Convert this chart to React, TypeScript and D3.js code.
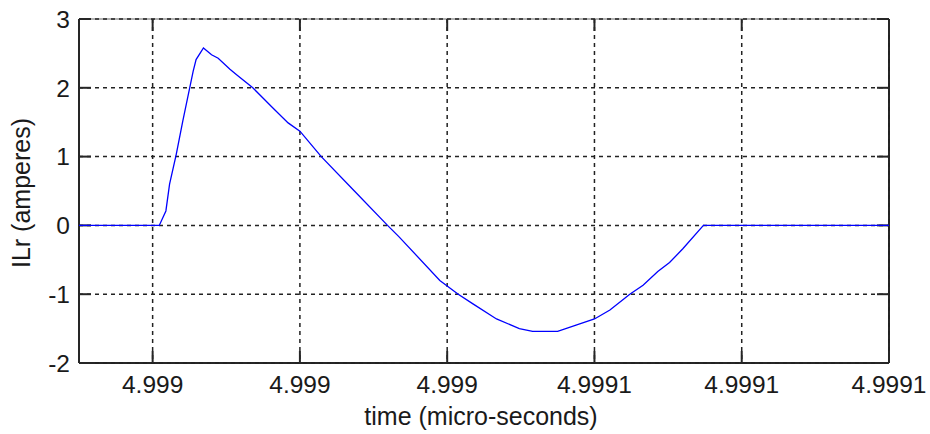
import React from "react";
import * as d3 from "d3";

// time samples (as shown on the axis) and inductor current
const timeVals = [
  4.99899, 4.9990009, 4.9990018, 4.9990023, 4.9990032, 4.9990041, 4.9990055, 4.9990059,
  4.9990069, 4.999008, 4.9990089, 4.9990105, 4.9990114, 4.9990136, 4.9990163, 4.9990184,
  4.99902, 4.9990229, 4.9990274, 4.9990319, 4.9990335, 4.999039, 4.9990415, 4.9990435,
  4.9990467, 4.9990498, 4.9990516, 4.999055, 4.9990575, 4.99906, 4.9990621, 4.9990648,
  4.9990666, 4.9990686, 4.9990702, 4.999072, 4.9990748, 4.9991,
];
const ilrVals = [
  0, 0, 0.21, 0.6, 1.03, 1.52, 2.24, 2.41,
  2.58, 2.48, 2.43, 2.27, 2.19, 2.0, 1.71, 1.49,
  1.37, 1.0, 0.5, 0, -0.17, -0.8, -1.0, -1.14,
  -1.36, -1.5, -1.54, -1.54, -1.45, -1.36, -1.23, -1.0,
  -0.87, -0.67, -0.54, -0.34, 0, 0,
];

const xTicks = [4.999, 4.99902, 4.99904, 4.99906, 4.99908, 4.9991];
const xTickLabels = ["4.999", "4.999", "4.999", "4.9991", "4.9991", "4.9991"];
const yTicks = [-2, -1, 0, 1, 2, 3];

const W = 930;
const H = 434;
const margin = { top: 19, right: 41, bottom: 71, left: 79 };
const font = "Arial, 'Liberation Sans', Helvetica, sans-serif";

export default function App() {
  const iw = W - margin.left - margin.right;
  const ih = H - margin.top - margin.bottom;

  const x = d3.scaleLinear().domain([4.99899, 4.9991]).range([0, iw]);
  const y = d3.scaleLinear().domain([-2, 3]).range([ih, 0]);

  const pts: [number, number][] = timeVals.map((t, i) => [t, ilrVals[i]]);
  const line = d3
    .line<[number, number]>()
    .x((d) => x(d[0]))
    .y((d) => y(d[1]));

  const tickLen = 12;

  return (
    <svg
      width={W}
      height={H}
      style={{ position: "absolute", left: 0, top: 0, background: "#fff" }}
      fontFamily={font}
    >
      <g transform={`translate(${margin.left},${margin.top})`}>
        {/* box, top edge lighter */}
        <line x1={0} x2={iw} y1={0} y2={0} stroke="#999" strokeWidth={1.5} />
        <line x1={0} x2={0} y1={0} y2={ih} stroke="#262626" strokeWidth={2} />
        <line x1={0} x2={iw} y1={ih} y2={ih} stroke="#262626" strokeWidth={2} />
        <line x1={iw} x2={iw} y1={0} y2={ih} stroke="#262626" strokeWidth={2} />

        {/* grid */}
        {xTicks.map((t, i) => (
          <line
            key={"gx" + i}
            x1={x(t)}
            x2={x(t)}
            y1={0}
            y2={ih}
            stroke="#222"
            strokeWidth={1.5}
            strokeDasharray="4,4"
          />
        ))}
        {yTicks.map((v, i) => (
          <line
            key={"gy" + i}
            x1={0}
            x2={iw}
            y1={y(v)}
            y2={y(v)}
            stroke="#222"
            strokeWidth={1.5}
            strokeDasharray="4,4"
          />
        ))}

        {/* inward ticks on all sides */}
        {xTicks.map((t, i) => (
          <g key={"tx" + i} stroke="#262626" strokeWidth={2}>
            <line x1={x(t)} x2={x(t)} y1={ih} y2={ih - tickLen} />
            <line x1={x(t)} x2={x(t)} y1={0} y2={tickLen} />
          </g>
        ))}
        {yTicks.map((v, i) => (
          <g key={"ty" + i} stroke="#262626" strokeWidth={2}>
            <line x1={0} x2={tickLen} y1={y(v)} y2={y(v)} />
            <line x1={iw} x2={iw - tickLen} y1={y(v)} y2={y(v)} />
          </g>
        ))}

        <path d={line(pts) || ""} fill="none" stroke="#0000ff" strokeWidth={1.3} />

        {/* tick labels */}
        {xTicks.map((t, i) => (
          <text
            key={"lx" + i}
            x={x(t)}
            y={ih + 30}
            textAnchor="middle"
            fontSize={24.5}
            fill="#1a1a1a"
          >
            {xTickLabels[i]}
          </text>
        ))}
        {yTicks.map((v, i) => (
          <text
            key={"ly" + i}
            x={-9}
            y={y(v)}
            dy="0.36em"
            textAnchor="end"
            fontSize={24.5}
            fill="#1a1a1a"
          >
            {v}
          </text>
        ))}
      </g>

      <text x={481} y={425} textAnchor="middle" fontSize={25} fill="#1a1a1a">
        time (micro-seconds)
      </text>
      <text
        transform={`translate(30,193) rotate(-90)`}
        textAnchor="middle"
        fontSize={25}
        fill="#1a1a1a"
      >
        ILr (amperes)
      </text>
    </svg>
  );
}
